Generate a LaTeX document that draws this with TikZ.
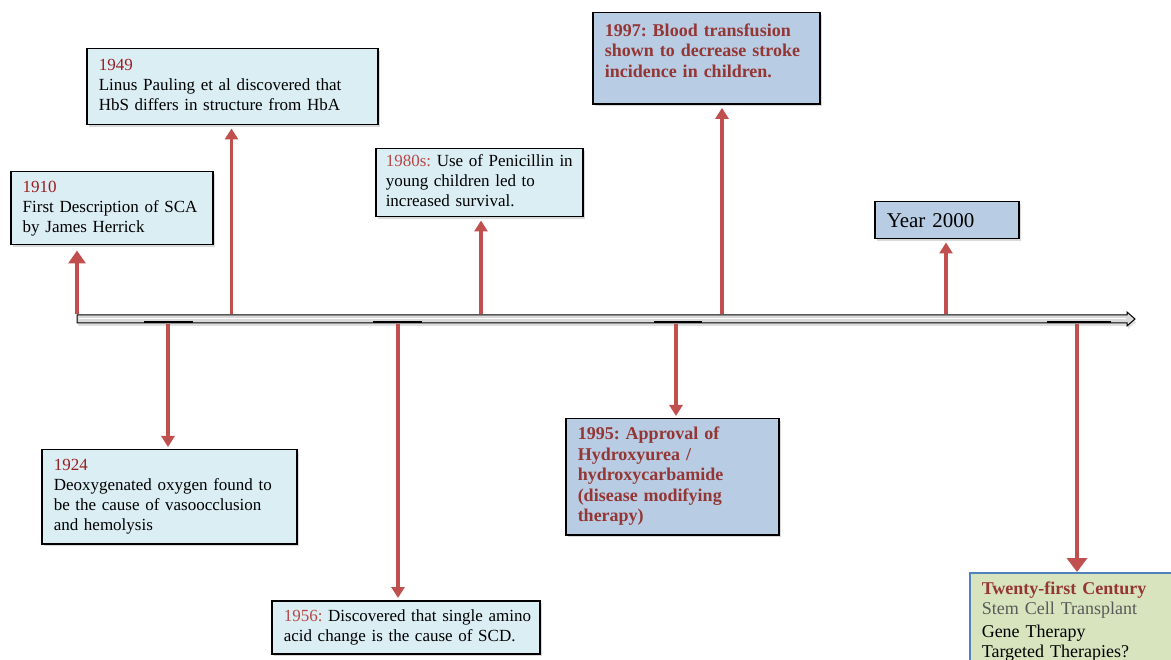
\documentclass[tikz,border=0pt]{standalone}
\usepackage{fontspec}
\setmainfont{Liberation Serif}
\usetikzlibrary{arrows.meta,positioning,shadows}
\definecolor{boxblue}{RGB}{219,238,244}
\definecolor{boxsteel}{RGB}{184,204,228}
\definecolor{boxgreen}{RGB}{215,228,189}
\definecolor{edgeblue}{RGB}{79,129,189}
\definecolor{arrowred}{RGB}{192,80,77}
\definecolor{yearred}{RGB}{155,28,30}
\definecolor{softred}{RGB}{183,72,70}
\definecolor{headred}{RGB}{148,54,52}
\definecolor{stemgray}{RGB}{89,89,89}
\newcommand{\yrmark}[1]{\textcolor{yearred}{#1}}
\newcommand{\softmark}[1]{\textcolor{softred}{#1}}
\newcommand{\boxlines}[1]{\begin{tabular}[t]{@{}l@{}}#1\end{tabular}}
\frenchspacing

\begin{document}
\begin{tikzpicture}[x=1pt,y=-1pt,
	basic/.style    = {draw, line width=1.5pt, rectangle, anchor=north west, align=left, inner xsep=12pt, inner ysep=4pt,
	                   font=\fontsize{17}{20}\selectfont, drop shadow={shadow xshift=2pt, shadow yshift=-2pt, opacity=0.3}},
	event/.style    = {basic, fill=boxblue},
	keyevent/.style = {basic, fill=boxsteel, text=headred, font=\fontsize{18}{20.5}\selectfont\bfseries},
	milestone/.style= {basic, fill=boxsteel, font=\fontsize{21}{24}\selectfont},
	future/.style   = {basic, draw=edgeblue, fill=boxgreen, inner ysep=8pt, font=\fontsize{18}{20}\selectfont, drop shadow={opacity=0}},
	redarrow/.style = {draw=arrowred, line width=3.2pt, -{Triangle[width=13pt,length=11pt]}},
	]
	
	\clip (0,0) rectangle (1171,660);
	
	% The time line itself
	\draw[line width=1pt, fill=black!15, drop shadow={shadow xshift=1pt, shadow yshift=-3pt, opacity=0.25}]
		(77,315) -- (1127,315) -- (1127,312) -- (1135,319) -- (1127,326) -- (1127,323) -- (77,323) -- cycle;
	\draw[white, line width=1pt] (79,318.5) -- (1126,318.5);
	\foreach \a/\b in {144/193,373/422,654/702,1047/1111}
	\draw[line width=2.5pt] (\a,322) -- (\b,322);
	
	% Points on the time line
	\coordinate (t1910) at (77,314);
	\coordinate (t1949) at (231.5,314);
	\coordinate (t1980) at (481,314);
	\coordinate (t1997) at (722,314);
	\coordinate (t2000) at (946,314);
	\coordinate (t1924) at (168,324);
	\coordinate (t1956) at (398,324);
	\coordinate (t1995) at (676,324);
	\coordinate (t21) at (1077,324);
	
	% Events above the line
	\node[event, text width=178pt, minimum height=73pt] (b1910) at (10,171)
		{\boxlines{\yrmark{1910}\\First Description of SCA\\by James Herrick}};
	\node[event, text width=267pt, minimum height=76pt] (b1949) at (86,48)
		{\boxlines{\yrmark{1949}\\Linus Pauling et al discovered that\\HbS differs in structure from HbA}};
	\node[event, inner xsep=10pt, text width=187pt, minimum height=67pt] (b1980) at (375,148)
		{\boxlines{\softmark{1980s:} Use of Penicillin in\\young children led to\\increased survival.}};
	\node[keyevent, text width=203pt, inner ysep=9pt] (b1997) at (592,12)
		{\boxlines{1997: Blood transfusion\\shown to decrease stroke\\incidence in children.\rule[-18pt]{0pt}{0pt}}};
	\node[milestone, text width=120pt, minimum height=37pt] (b2000) at (874,201) {Year 2000};
	
	% Events below the line
	\node[event, text width=231pt, minimum height=94pt] (b1924) at (41,449)
		{\boxlines{\yrmark{1924}\\Deoxygenated oxygen found to\\be the cause of vasoocclusion\\and hemolysis}};
	\node[event, text width=244pt, minimum height=53pt] (b1956) at (271,600)
		{\boxlines{\softmark{1956:} Discovered that single amino\\acid change is the cause of SCD.}};
	\node[keyevent, text width=189pt, minimum height=116pt] (b1995) at (565,418)
		{\boxlines{1995: Approval of\\Hydroxyurea /\\hydroxycarbamide\\(disease modifying\\therapy)}};
	\node[future, text width=186pt] (b21) at (969,572)
		{\boxlines{\textcolor{headred}{\bfseries Twenty-first Century}\\\textcolor{stemgray}{Stem Cell Transplant}\\[3pt]Gene Therapy\\Targeted Therapies?}};
	
	% Arrows from the line to each box
	\draw[redarrow, line width=4pt, -{Triangle[width=17pt,length=13pt]}] (t1910) -- ([yshift=-5pt]b1910.south -| t1910);
	\foreach \n in {1949,1980,1997,2000}
	\draw[redarrow, shorten >=3pt] (t\n) -- (b\n.south -| t\n);
	
	\foreach \n in {1924,1956,1995}
	\draw[redarrow, shorten >=2pt] (t\n) -- (b\n.north -| t\n);
	\draw[redarrow, line width=4.5pt, -{Triangle[width=20pt,length=14pt]}] (t21) -- (b21.north -| t21);
	
\end{tikzpicture}
\end{document}
